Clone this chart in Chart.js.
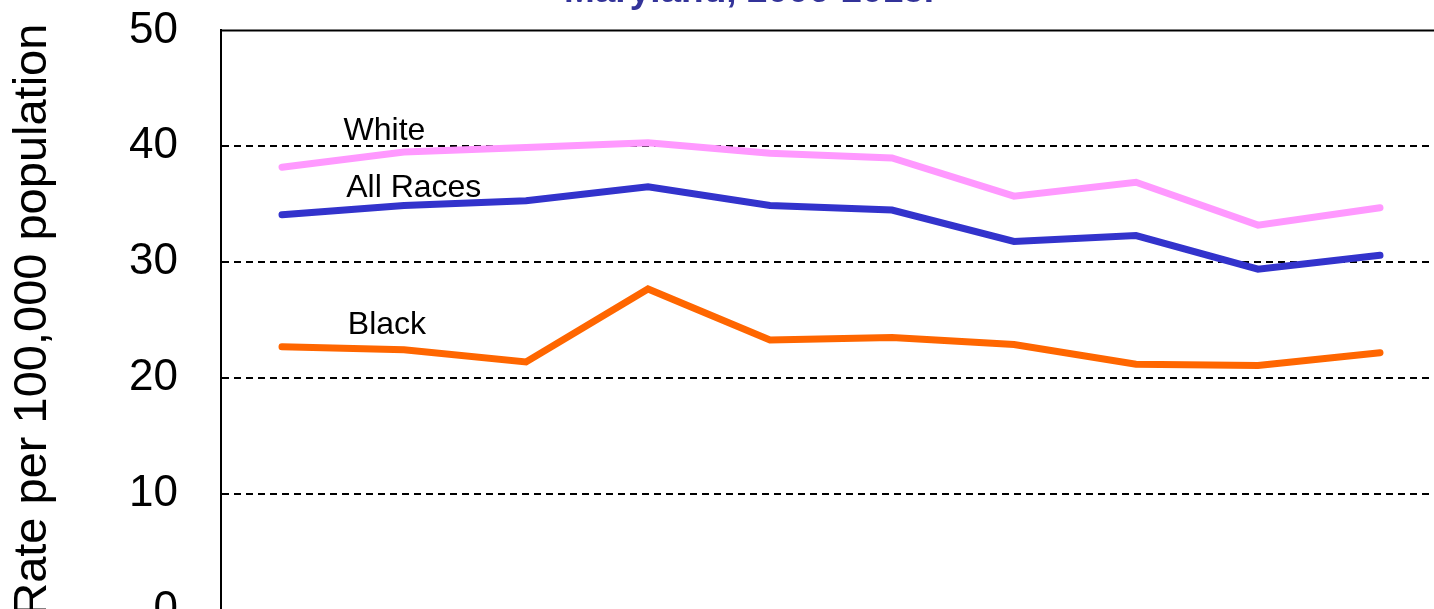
<!DOCTYPE html>
<html>
<head>
<meta charset="utf-8">
<script src="https://cdn.jsdelivr.net/npm/chart.js@4.4.1/dist/chart.umd.min.js"></script>
<style>
  html, body { margin: 0; padding: 0; background: #fff; overflow: hidden; width: 1434px; height: 609px; }
  #wrap { position: absolute; left: 0; top: -39px; width: 1498px; height: 729px; }
</style>
</head>
<body>
<div id="wrap"><canvas id="rateChart"></canvas></div>
<script>
// years along the x axis (below the visible crop)
const years = ["2006", "2007", "2008", "2009", "2010", "2011", "2012", "2013", "2014", "2015"];

// rates per 100,000
const white_rate = [38.2, 39.5, 39.9, 40.3, 39.4, 39.0, 35.7, 36.9, 33.2, 34.7];
const all_rate   = [34.1, 34.9, 35.3, 36.5, 34.9, 34.5, 31.8, 32.3, 29.4, 30.6];
const black_rate = [22.7, 22.45, 21.4, 27.7, 23.3, 23.5, 22.9, 21.2, 21.1, 22.2];

const y_ticks = [0, 10, 20, 30, 40, 50];

// text labels next to the lines, in data units (category index, rate)
const line_labels = [
    { text: "White", x: 0.84, y: 41.3 },
    { text: "All Races", x: 1.08, y: 36.4 },
    { text: "Black", x: 0.86, y: 24.6 }
];

const fontFamily = 'Arial, "Liberation Sans", Helvetica, sans-serif';

// draws the top frame line and the series names
const frameAndLabels = {
    id: 'frameAndLabels',
    afterDatasetsDraw(chart){
        const ctx = chart.ctx;
        const area = chart.chartArea;
        const xs = chart.scales.x;
        const ys = chart.scales.y;
        ctx.save();
        ctx.strokeStyle = '#000';
        ctx.lineWidth = 2;
        ctx.beginPath();
        ctx.moveTo(area.left, ys.getPixelForValue(50));
        ctx.lineTo(area.right, ys.getPixelForValue(50));
        ctx.stroke();

        ctx.fillStyle = '#000';
        ctx.font = '32px ' + fontFamily;
        ctx.textAlign = 'center';
        ctx.textBaseline = 'middle';
        line_labels.forEach((lab) => {
            ctx.fillText(lab.text, xs.getPixelForValue(lab.x), ys.getPixelForValue(lab.y));
        });
        ctx.restore();
    }
};

function makeSet(label, data, color){
    return {
        label: label,
        data: data,
        borderColor: color,
        backgroundColor: color,
        borderWidth: 7,
        pointRadius: 0,
        tension: 0,
        borderCapStyle: 'round',
        borderJoinStyle: 'miter'
    };
}

new Chart(document.getElementById('rateChart'), {
    type: 'line',
    data: {
        labels: years,
        datasets: [
            makeSet('White', white_rate, '#ff99ff'),
            makeSet('All Races', all_rate, '#3333cc'),
            makeSet('Black', black_rate, '#ff6600')
        ]
    },
    options: {
        responsive: true,
        maintainAspectRatio: false,
        animation: false,
        // left padding keeps the title centred where the original had it
        layout: { padding: { left: 57, right: 57, top: 0, bottom: 0 } },
        plugins: {
            legend: { display: false },
            tooltip: { enabled: false },
            title: {
                display: true,
                text: 'Maryland, 2006-2015.',
                color: '#333399',
                font: { family: fontFamily, size: 37, weight: 'bold' },
                padding: { top: 0, bottom: 16.6 }
            }
        },
        scales: {
            x: {
                offset: true,
                grid: { display: false, drawTicks: false },
                border: { display: true, color: '#666', width: 2 },
                ticks: { color: '#000', font: { family: fontFamily, size: 44 }, padding: 10 },
                afterFit(scale){ scale.height = 80; }
            },
            y: {
                min: 0,
                max: 50,
                afterBuildTicks(scale){ scale.ticks = y_ticks.map((v) => ({ value: v })); },
                grid: {
                    drawTicks: false,
                    lineWidth: 2,
                    color: (c) => (c.tick && (c.tick.value === 0 || c.tick.value === 50)) ? 'rgba(0,0,0,0)' : '#000'
                },
                border: { display: true, color: '#000', width: 2, dash: [7, 5] },
                ticks: { color: '#000', font: { family: fontFamily, size: 44 }, padding: 43 },
                title: {
                    display: true,
                    text: 'Rate per 100,000 population',
                    color: '#000',
                    font: { family: fontFamily, size: 47 },
                    padding: { top: -52, bottom: 0 }
                },
                afterFit(scale){ scale.width = 164; }
            }
        }
    },
    plugins: [frameAndLabels]
});
</script>
</body>
</html>
